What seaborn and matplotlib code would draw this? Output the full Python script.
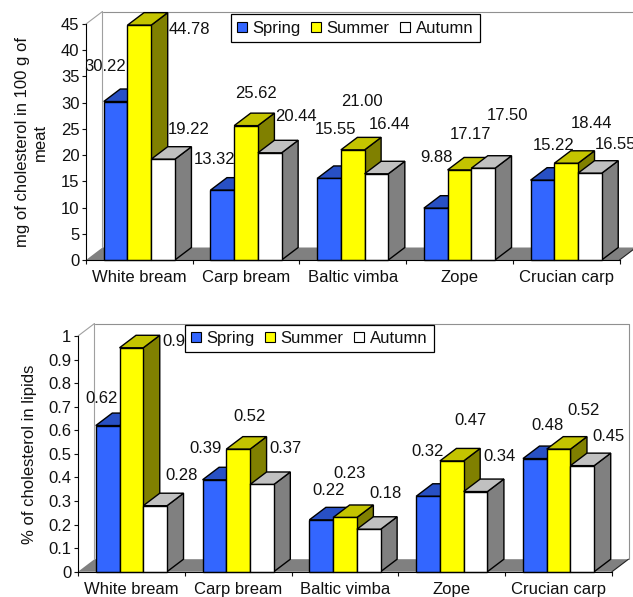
import matplotlib
matplotlib.use("Agg")
import matplotlib.pyplot as plt
from matplotlib.patches import Patch, Polygon
import numpy as np
import pandas as pd
import seaborn as sns

# ---------- data ----------
species = ["White bream", "Carp bream", "Baltic vimba", "Zope", "Crucian carp"]
seasons = ["Spring", "Summer", "Autumn"]

mg_spring = [30.22, 13.32, 15.55, 9.88, 15.22]
mg_summer = [44.78, 25.62, 21.00, 17.17, 18.44]
mg_autumn = [19.22, 20.44, 16.44, 17.50, 16.55]

pct_spring = [0.62, 0.39, 0.22, 0.32, 0.48]
pct_summer = [0.95, 0.52, 0.23, 0.47, 0.52]
pct_autumn = [0.28, 0.37, 0.18, 0.34, 0.45]

# ---------- layout / style ----------
W, H = 633, 597
FS = 12
LW = 0.8
DEPTH_X, DEPTH_Y = 16.5, 12.5  # px

front = {"Spring": "#3366FF", "Summer": "#FFFF00", "Autumn": "#FFFFFF"}
top_c = {"Spring": "#2850C4", "Summer": "#C4C400", "Autumn": "#C0C0C0"}
side_c = {"Spring": "#1A3380", "Summer": "#808000", "Autumn": "#808080"}

# label offset from the top centre of each bar (px, right / up), per species then season
mg_offsets = [
    [(-10, 34.8), (49.7, -4.1), (25.3, 29.9)],
    [(-8, 31.1), (10, 32.3), (26, 36.1)],
    [(6.2, 49.2), (9.3, 48.2), (12.9, 49.5)],
    [(1, 50.5), (10.9, 35), (24.2, 52.5)],
    [(10.9, 34.2), (25.5, 39.3), (25.2, 28.9)],
]
pct_offsets = [
    [(-6, 26.9), (46.9, 6.1), (26.6, 30.7)],
    [(-8.4, 31.1), (11.6, 32.8), (23.3, 35.8)],
    [(7.2, 29.5), (4.3, 44.2), (17.2, 36)],
    [(0, 44.6), (18.5, 40.9), (24.2, 34.9)],
    [(12.2, 32.9), (24.5, 38.4), (26.4, 29.6)],
]

sns.set_theme(style="white", rc={"axes.linewidth": LW})
plt.rcParams["font.family"] = ["Liberation Sans", "DejaVu Sans"]
plt.rcParams["text.color"] = "#111111"
plt.rcParams["axes.labelcolor"] = "#111111"
plt.rcParams["xtick.color"] = "#111111"
plt.rcParams["ytick.color"] = "#111111"

fig = plt.figure(figsize=(W / 100, H / 100), dpi=100, facecolor="white")


def make_axes(left, right, y_bottom, y_top):
    return fig.add_axes([left / W, 1 - y_bottom / H, (right - left) / W, (y_bottom - y_top) / H])


def panel(ax, series, ymax, ystep, fmt, offsets, ylabel, label_x, legend_box, ytick_labels):
    df = pd.DataFrame(
        {
            "species": np.tile(species, 3),
            "season": np.repeat(seasons, 5),
            "value": np.concatenate(series),
        }
    )
    sns.barplot(
        data=df, x="species", y="value", hue="season", order=species, hue_order=seasons,
        palette=front, width=0.667, gap=0, saturation=1, edgecolor="black", linewidth=1.0,
        legend=False, errorbar=None, ax=ax,
    )
    ax.set_xlim(-0.5, 4.5)
    ax.set_ylim(0, ymax)

    bbox = ax.get_window_extent()
    dx = DEPTH_X * 5 / bbox.width
    dy = DEPTH_Y * ymax / bbox.height

    # floor and walls
    ax.add_patch(Polygon([(-0.5, 0), (-0.5 + dx, dy), (4.5 + dx, dy), (4.5, 0)], closed=True,
                         facecolor="#808080", edgecolor="none", clip_on=False, zorder=1))
    ax.plot([4.5, 4.5 + dx], [0, dy], color="#222222", lw=LW, clip_on=False, zorder=1.1)
    ax.plot([-0.5, -0.5 + dx, -0.5 + dx], [ymax, ymax + dy, dy], color="#A0A0A0", lw=LW,
            clip_on=False, zorder=1.1)
    ax.plot([-0.5 + dx, 4.5 + dx, 4.5 + dx], [ymax + dy, ymax + dy, dy], color="#909090", lw=LW,
            clip_on=False, zorder=1.1)

    # extruded faces
    for j, (season, cont) in enumerate(zip(seasons, ax.containers)):
        for i, bar in enumerate(cont):
            x0, w, h = bar.get_x(), bar.get_width(), bar.get_height()
            z = 2 + j * 0.1
            ax.add_patch(Polygon([(x0 + w, 0), (x0 + w + dx, dy), (x0 + w + dx, h + dy), (x0 + w, h)],
                                 closed=True, facecolor=side_c[season], edgecolor="black",
                                 linewidth=1.0, clip_on=False, zorder=z))
            ax.add_patch(Polygon([(x0, h), (x0 + dx, h + dy), (x0 + w + dx, h + dy), (x0 + w, h)],
                                 closed=True, facecolor=top_c[season], edgecolor="black",
                                 linewidth=1.0, clip_on=False, zorder=z))
            bar.set_zorder(z + 0.01)
            bar.set_clip_on(False)
            ox, oy = offsets[i][j]
            ax.annotate(fmt.format(h), xy=(x0 + w / 2, h), xytext=(ox, oy),
                        textcoords="offset pixels", ha="center", va="center",
                        fontsize=FS, zorder=6, annotation_clip=False)

    # axes
    sns.despine(ax=ax)
    ax.spines["left"].set_linewidth(LW)
    ax.spines["bottom"].set_linewidth(LW)
    ax.spines["left"].set_color("black")
    ax.spines["bottom"].set_color("black")
    ax.set_xlabel("")
    ax.set_ylabel(ylabel, fontsize=FS, va="center", ha="center", multialignment="center",
                  linespacing=1.25)
    pos = ax.get_position()
    ax.yaxis.set_label_coords(label_x / W, (pos.y0 + pos.y1) / 2, transform=fig.transFigure)
    ax.set_xticks(range(5))
    ax.set_xticklabels(species, fontsize=FS)
    ax.set_xticks(np.arange(-0.5, 5, 1), minor=True)
    ax.tick_params(axis="x", which="major", length=0, pad=7.5)
    ax.tick_params(axis="x", which="minor", length=3.2, width=LW, bottom=True)
    ax.set_yticks(np.arange(0, ymax + ystep / 2, ystep))
    ax.set_yticklabels(ytick_labels, fontsize=FS)
    ax.tick_params(axis="y", which="major", length=3.2, width=LW, left=True, pad=1.5)

    # legend
    handles = [Patch(facecolor=front[s], edgecolor="black", linewidth=LW, label=s) for s in seasons]
    lx, ly = legend_box
    leg = ax.legend(
        handles=handles, ncol=3, loc="upper left",
        bbox_to_anchor=(lx / W, 1 - ly / H), bbox_transform=fig.transFigure,
        fontsize=FS, frameon=True, fancybox=False, framealpha=1, edgecolor="black",
        handlelength=0.62, handleheight=0.62, handletextpad=0.32, columnspacing=0.62,
        borderpad=0.38, borderaxespad=0,
    )
    leg.get_frame().set_linewidth(LW + 0.1)
    leg.set_zorder(10)


ax1 = make_axes(86, 619.5, 260, 24)
panel(ax1, [mg_spring, mg_summer, mg_autumn], 45, 5, "{:.2f}", mg_offsets,
      "mg of cholesterol in 100 g of\nmeat", 31.5, (230.5, 14.5),
      ["0", "5", "10", "15", "20", "25", "30", "35", "40", "45"])

ax2 = make_axes(78, 612, 571.7, 336)
panel(ax2, [pct_spring, pct_summer, pct_autumn], 1, 0.1, "{:.2f}", pct_offsets,
      "% of cholesterol in lipids", 30, (184.5, 324.5),
      ["0", "0.1", "0.2", "0.3", "0.4", "0.5", "0.6", "0.7", "0.8", "0.9", "1"])

fig.savefig("out.png", dpi=100, facecolor="white")
